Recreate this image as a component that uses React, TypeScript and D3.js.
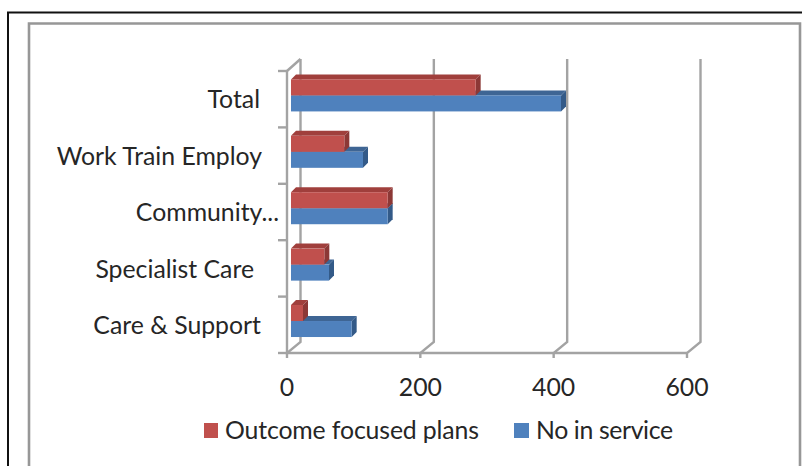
import React from "react";
import * as d3 from "d3";

const categories = ["Total", "Work Train Employ", "Community...", "Specialist Care", "Care & Support"];
const outcomeFocusedPlans = [277, 80, 145, 50, 18];
const noInService = [405, 108, 145, 57, 91];
const xTicks = [0, 200, 400, 600];
const seriesNames = ["Outcome focused plans", "No in service"];

// Right edge of each category label, since the long ones sit unevenly against the axis.
const labelRight = [260, 262, 279, 254, 261];

const FONT = "Lato, 'Open Sans', sans-serif";
const GRID = "#a3a3a3";
const TEXT = "#262626";
const RED = { front: "#c0504d", top: "#a03f3c", side: "#8c3836" };
const BLUE = { front: "#4f81bd", top: "#3e6594", side: "#335a88" };

const W = 802;
const H = 466;
const DEPTH_X = 13.5;
const DEPTH_Y = 12;
const BAR_DEPTH = 5;
const BAR_INSET = 4;
const FONT_SIZE = 24.8;

const x = d3.scaleLinear().domain([0, 600]).range([287, 687]);
const y = d3.scaleBand<string>().domain(categories).range([71, 353]);

function Bar3D({ value, top, height, colors }: { value: number; top: number; height: number; colors: typeof RED }) {
  const x0 = x(0) + BAR_INSET;
  const x1 = x0 + (x(value) - x(0));
  const d = BAR_DEPTH;
  return (
    <g>
      <polygon points={`${x0},${top} ${x0 + d},${top - d} ${x1 + d},${top - d} ${x1},${top}`} fill={colors.top} />
      <polygon points={`${x1},${top} ${x1 + d},${top - d} ${x1 + d},${top + height - d} ${x1},${top + height}`} fill={colors.side} />
      <rect x={x0} y={top} width={x1 - x0} height={height} fill={colors.front} />
    </g>
  );
}

export default function App() {
  const band = y.bandwidth();
  const barH = 16;
  const base = y.range()[1];
  const backTop = 59;
  return (
    <svg
      width={W}
      height={H}
      viewBox={`0 0 ${W} ${H}`}
      style={{ position: "absolute", left: 0, top: 0, display: "block", background: "#fff" }}
      fontFamily={FONT}
    >
      {/* Outer page frame and chart border, both running off the bottom edge */}
      <path d={`M8,${H} V12.5 H${W}`} fill="none" stroke="#111" strokeWidth={2} />
      <path d={`M29,${H} V23.5 H800 V${H}`} fill="none" stroke="#979797" strokeWidth={2.6} />

      {/* Back wall gridlines with their slanted floor segments */}
      {xTicks.map((t) => (
        <path
          key={t}
          d={`M${x(t) + DEPTH_X},${backTop} V${base - DEPTH_Y + 1} L${x(t)},${base} V${base + 5}`}
          fill="none"
          stroke={GRID}
          strokeWidth={2.4}
        />
      ))}

      {/* Category axis and floor line */}
      <path d={`M${x(0)},${y.range()[0]} V${base} H${x(600)}`} fill="none" stroke={GRID} strokeWidth={2.4} />
      <path d={`M${x(0)},${y.range()[0]} L${x(0) + DEPTH_X},${backTop}`} fill="none" stroke={GRID} strokeWidth={2.4} />
      {[...categories.map((c) => y(c)!), base].map((p, i) => (
        <line key={i} x1={x(0) - 9} x2={x(0)} y1={p} y2={p} stroke={GRID} strokeWidth={2.4} />
      ))}

      {/* Bars, blue first so the red front face covers its top */}
      {categories.map((c, i) => {
        const mid = y(c)! + band * 0.433;
        return (
          <g key={c}>
            <Bar3D value={noInService[i]} top={mid} height={barH} colors={BLUE} />
            <Bar3D value={outcomeFocusedPlans[i]} top={mid - barH} height={barH} colors={RED} />
          </g>
        );
      })}

      {/* Category labels */}
      {categories.map((c, i) => (
        <text key={c} x={labelRight[i]} y={y(c)! + band * 0.5 + 0.5} dy="0.35em" textAnchor="end" fontSize={FONT_SIZE} fill={TEXT}>
          {c}
        </text>
      ))}

      {/* Value labels */}
      {xTicks.map((t) => (
        <text key={t} x={x(t)} y={396} textAnchor="middle" fontSize={FONT_SIZE} fill={TEXT}>
          {t}
        </text>
      ))}

      {/* Legend */}
      <rect x={204} y={423} width={14} height={15} fill={RED.front} />
      <text x={225} y={439} fontSize={FONT_SIZE} textLength={254} fill={TEXT}>{seriesNames[0]}</text>
      <rect x={514} y={423} width={15} height={15} fill={BLUE.front} />
      <text x={536} y={439} fontSize={FONT_SIZE} textLength={137} fill={TEXT}>{seriesNames[1]}</text>
    </svg>
  );
}
